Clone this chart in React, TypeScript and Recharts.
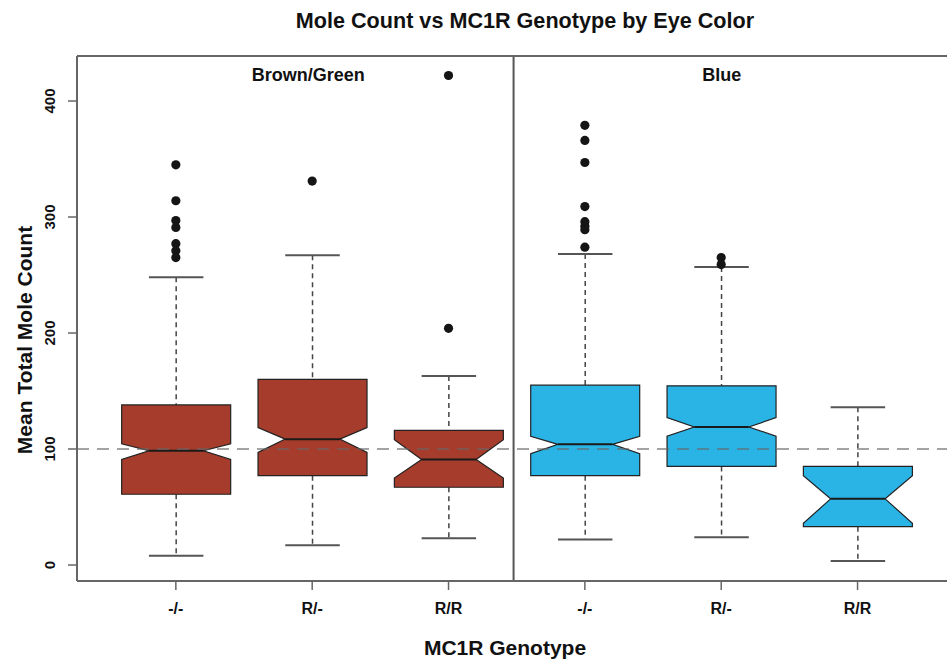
import React from "react";
import {
  ComposedChart,
  Bar,
  Scatter,
  XAxis,
  YAxis,
  ReferenceLine,
  Customized,
} from "recharts";

// ---- data ----
const eyeColors = ["Brown/Green", "Brown/Green", "Brown/Green", "Blue", "Blue", "Blue"];
const genotypes = ["-/-", "R/-", "R/R", "-/-", "R/-", "R/R"];
const positions = [1, 2, 3, 4, 5, 6];
const whiskerLow = [8, 17, 23, 22, 24, 3.5];
const lowerQuartile = [61, 77, 67, 77, 85, 33];
const medians = [98.5, 108.5, 91, 104, 119, 57];
const upperQuartile = [138, 160, 116, 155, 154.5, 85];
const whiskerHigh = [248, 267, 163, 268, 257, 136];
const notchLow = [91, 97, 75, 96, 111, 36];
const notchHigh = [104.5, 118.5, 108, 111, 127, 77];
const outliers = [
  [345, 314, 297, 291, 277, 271, 265],
  [331],
  [422, 204],
  [379, 366, 347, 309, 296, 292, 289, 274],
  [265, 259],
  [],
];
const yTicks = [0, 100, 200, 300, 400];
const referenceValue = 100;
const panelDivider = 3.477;
const panelLabels = ["Brown/Green", "Blue"];
const panelLabelCenters = [1.965, 5.0];
const title = "Mole Count vs MC1R Genotype by Eye Color";
const xTitle = "MC1R Genotype";
const yTitle = "Mean Total Mole Count";

// ---- styles ----
const W = 947;
const H = 662;
const X_DOMAIN: [number, number] = [0.275, 6.656];
const Y_DOMAIN: [number, number] = [-13.8, 438.8];
const FONT = "'Liberation Sans', Arial, Helvetica, sans-serif";
const FILLS: Record<string, string> = { "Brown/Green": "#A63C2B", Blue: "#2AB4E6" };

const boxData = positions.map((pos, i) => ({
  pos,
  eye: eyeColors[i],
  genotype: genotypes[i],
  lo: whiskerLow[i],
  q1: lowerQuartile[i],
  med: medians[i],
  q3: upperQuartile[i],
  hi: whiskerHigh[i],
  nLo: notchLow[i],
  nHi: notchHigh[i],
}));

const outlierData = outliers.flatMap((vals, i) =>
  vals.map((v) => ({ pos: positions[i], value: v }))
);

const BoxShape = (props: any) => {
  const { x, y, width, height, payload } = props;
  if (x == null || y == null || !payload) return null;
  const { lo, hi, q1, q3, med, nLo, nHi, eye } = payload;
  const px = (v: number) => y + (height * (hi - v)) / (hi - lo);
  const cx = x + width / 2;
  const half = width / 2;
  const nh = width / 4;
  const cap = width / 4;
  const yq1 = px(q1);
  const yq3 = px(q3);
  const ym = px(med);
  const ynl = px(nLo);
  const ynh = px(nHi);
  const yhi = px(hi);
  const ylo = px(lo);
  const d = [
    `M${cx - half},${yq3}`,
    `L${cx + half},${yq3}`,
    `L${cx + half},${ynh}`,
    `L${cx + nh},${ym}`,
    `L${cx + half},${ynl}`,
    `L${cx + half},${yq1}`,
    `L${cx - half},${yq1}`,
    `L${cx - half},${ynl}`,
    `L${cx - nh},${ym}`,
    `L${cx - half},${ynh}`,
    "Z",
  ].join(" ");
  return (
    <g>
      <line x1={cx} x2={cx} y1={yhi} y2={yq3} stroke="#444" strokeWidth={1.5} strokeDasharray="5 4" />
      <line x1={cx} x2={cx} y1={yq1} y2={ylo} stroke="#444" strokeWidth={1.5} strokeDasharray="5 4" />
      <line x1={cx - cap} x2={cx + cap} y1={yhi} y2={yhi} stroke="#555" strokeWidth={2} />
      <line x1={cx - cap} x2={cx + cap} y1={ylo} y2={ylo} stroke="#555" strokeWidth={2} />
      <path d={d} fill={FILLS[eye]} stroke="#222" strokeWidth={1.2} />
      <line x1={cx - nh} x2={cx + nh} y1={ym} y2={ym} stroke="#1a1a1a" strokeWidth={2} />
    </g>
  );
};

const OutlierDot = (props: any) => {
  const { cx, cy } = props;
  if (cx == null || cy == null) return null;
  return <circle cx={cx} cy={cy} r={4.6} fill="#151515" />;
};

const XTick = (props: any) => {
  const { x, y, payload } = props;
  const idx = positions.indexOf(payload.value);
  return (
    <text x={x} y={y} dy={22} textAnchor="middle" fontFamily={FONT} fontWeight="bold" fontSize={16} fill="#111">
      {genotypes[idx]}
    </text>
  );
};

const YTick = (props: any) => {
  const { x, y, payload } = props;
  return (
    <text
      transform={`translate(${x - 11},${y}) rotate(-90)`}
      textAnchor="middle"
      fontFamily={FONT}
      fontWeight="bold"
      fontSize={15}
      fill="#111"
    >
      {payload.value}
    </text>
  );
};

const Annotations = () => (
  <g fontFamily={FONT} fontWeight="bold" fill="#111">
    <text x={525} y={28} textAnchor="middle" fontSize={21.6}>
      {title}
    </text>
    <text x={505} y={655} textAnchor="middle" fontSize={21}>
      {xTitle}
    </text>
    <text transform="translate(32,340) rotate(-90)" textAnchor="middle" fontSize={21}>
      {yTitle}
    </text>
    {panelLabels.map((lab, i) => (
      <text key={lab} x={40.7 + 136.2 * panelLabelCenters[i]} y={81} textAnchor="middle" fontSize={18}>
        {lab}
      </text>
    ))}
  </g>
);

export default function App() {
  return (
    <div style={{ position: "absolute", left: 0, top: 0, width: W, height: H, background: "#fff", overflow: "hidden" }}>
      <ComposedChart width={W} height={H} data={boxData} margin={{ top: 56, right: 0, bottom: 0, left: 0 }}>
        <XAxis
          type="number"
          dataKey="pos"
          domain={X_DOMAIN}
          allowDataOverflow
          ticks={positions}
          interval={0}
          height={81}
          tickSize={9}
          tickMargin={2}
          axisLine={{ stroke: "#666", strokeWidth: 2 }}
          tickLine={{ stroke: "#666", strokeWidth: 1.5 }}
          tick={<XTick />}
        />
        <YAxis
          type="number"
          domain={Y_DOMAIN}
          allowDataOverflow
          ticks={yTicks}
          interval={0}
          width={77}
          tickSize={9}
          tickMargin={2}
          axisLine={{ stroke: "#666", strokeWidth: 2 }}
          tickLine={{ stroke: "#666", strokeWidth: 1.5 }}
          tick={<YTick />}
        />
        <Bar dataKey={(d: any) => [d.lo, d.hi]} barSize={109} shape={<BoxShape />} isAnimationActive={false} />
        <Scatter data={outlierData} dataKey="value" shape={<OutlierDot />} isAnimationActive={false} />
        <ReferenceLine y={referenceValue} stroke="#666" strokeOpacity={0.6} strokeWidth={2} strokeDasharray="12 8" />
        <ReferenceLine x={panelDivider} stroke="#555" strokeWidth={2} />
        <ReferenceLine y={Y_DOMAIN[1]} stroke="#666" strokeWidth={2} />
        <Customized component={Annotations} />
      </ComposedChart>
    </div>
  );
}
